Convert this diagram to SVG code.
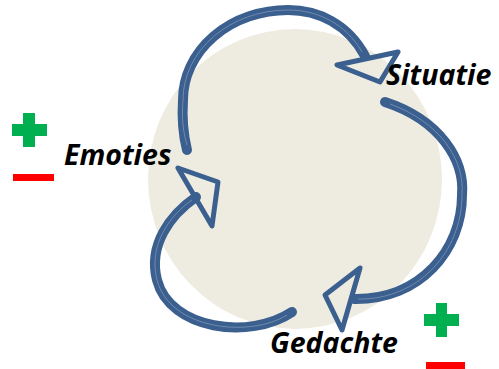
<svg xmlns="http://www.w3.org/2000/svg" width="499" height="369" viewBox="0 0 499 369">
  <style>
    .label { font-family: "Open Sans", "DejaVu Sans", sans-serif; font-weight: bold; font-style: italic; font-size: 28.5px; fill: #000; }
    .shaft { fill: none; stroke: #3B5F8E; stroke-width: 10; stroke-linecap: round; }
    .shine { fill: none; stroke: #8FA6C4; stroke-width: 1; stroke-opacity: 0.6; }
    .head { fill: none; stroke: #3B5F8E; stroke-width: 5; stroke-linejoin: round; }
    .plus { fill: #00B050; }
    .minus { fill: #FF0000; }
  </style>

  <!-- backdrop disc -->
  <ellipse id="backdrop" cx="295" cy="179" rx="147" ry="150" fill="#EEECE1"/>

  <!-- cycle arrows -->
  <g id="connectors">
    <g id="arrow-emoties-situatie">
      <path class="shaft" d="M187,150 C182,130 182,115 183,100 A105,90 0 0 1 288,10 C318,10 348,24 365,56"/>
      <path class="shine" d="M187,145 C182,128 182,115 183,100 A105,90 0 0 1 288,10 C318,10 346,24 362,52"/>
      <polygon class="head" points="337,65 380,82 398,52"/>
    </g>
    <g id="arrow-situatie-gedachte">
      <path class="shaft" d="M385,102 C440,120 465,160 462,195 C462,250 420,300 354,299"/>
      <path class="shine" d="M390,104 C440,122 465,160 462,195 C462,250 420,300 358,299"/>
      <polygon class="head" points="360,268 325,295 342,330"/>
    </g>
    <g id="arrow-gedachte-emoties">
      <path class="shaft" d="M292,312 C250,340 170,330 157,280 C148,245 170,215 196,197"/>
      <path class="shine" d="M287,315 C250,338 170,330 157,280 C148,245 170,215 192,200"/>
      <polygon class="head" points="178,168 218,182 212,226"/>
    </g>
  </g>

  <!-- nodes -->
  <g id="node-emoties">
    <text class="label" x="64" y="165">Emoties</text>
  </g>
  <g id="node-situatie">
    <text class="label" x="386" y="85">Situatie</text>
  </g>
  <g id="node-gedachte">
    <text class="label" x="270" y="353">Gedachte</text>
  </g>

  <!-- plus / minus markers -->
  <g id="marker-left">
    <rect class="plus" x="23" y="113" width="12" height="34"/>
    <rect class="plus" x="12" y="124" width="35" height="12"/>
    <rect class="minus" x="13" y="174" width="41" height="7"/>
  </g>
  <g id="marker-right">
    <rect class="plus" x="436" y="303" width="11" height="34"/>
    <rect class="plus" x="424" y="314" width="35" height="12"/>
    <rect class="minus" x="426" y="362" width="39" height="7"/>
  </g>
</svg>
